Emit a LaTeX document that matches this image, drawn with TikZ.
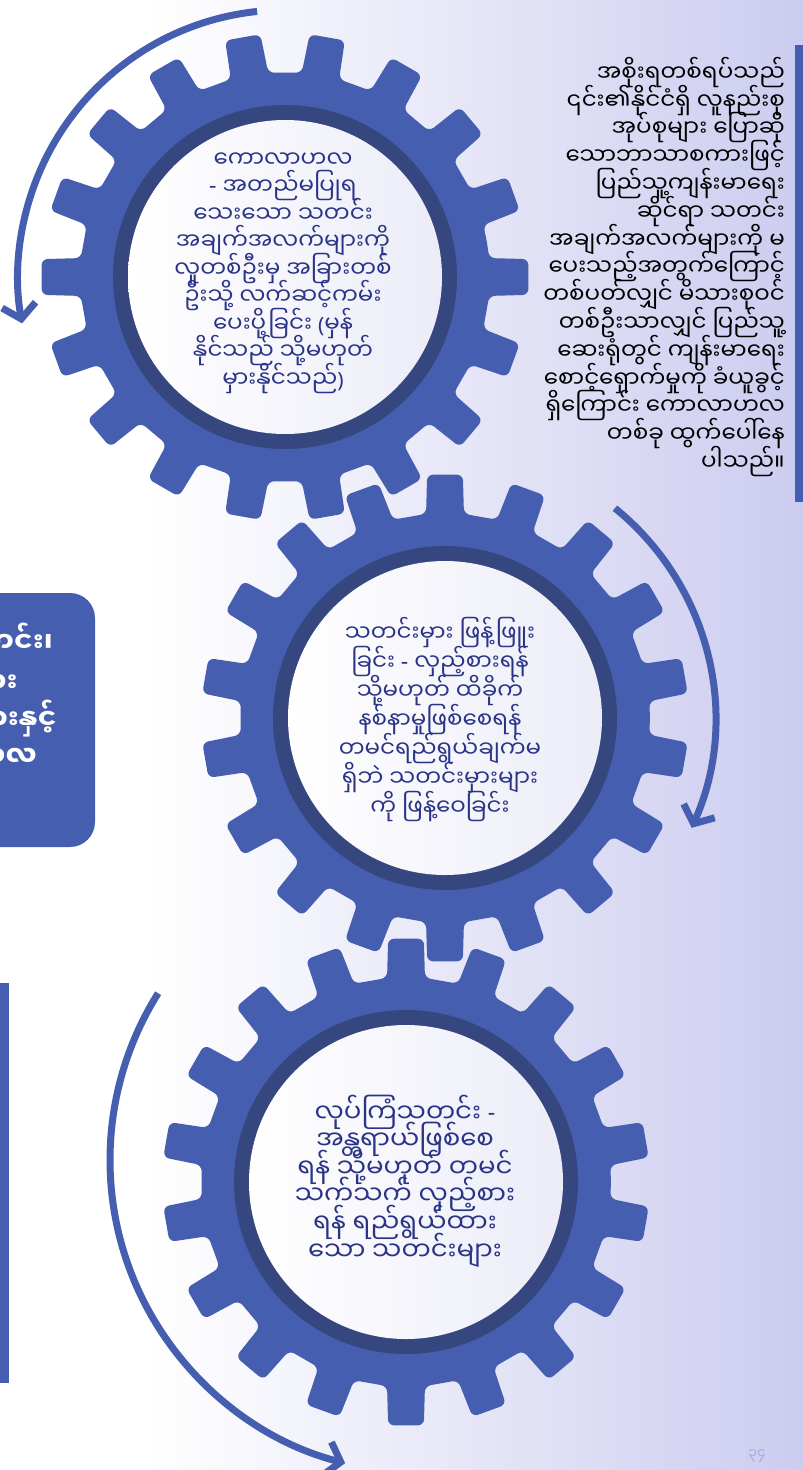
\documentclass[tikz,border=0pt]{standalone}
\usepackage{fontspec}
\newfontfamily\mm[Script=Myanmar]{Noto Sans Myanmar UI}
\newfontfamily\lat{Noto Sans}
\usetikzlibrary{arrows.meta,calc}
\definecolor{gearblue}{RGB}{69,94,176}
\definecolor{ringblue}{RGB}{54,71,128}
\definecolor{textnavy}{RGB}{42,52,135}
\definecolor{bgright}{RGB}{204,204,240}
\definecolor{innerright}{RGB}{236,236,248}
\definecolor{pagenum}{RGB}{165,170,225}
\newcommand\tight{\lineskiplimit=-100pt\lineskip=0pt}
\tikzset{
  geartext/.style={font=\mm\fontsize{23}{27.5}\selectfont\tight, text=textnavy, align=center, inner sep=0pt},
  midtext/.style={font=\mm\fontsize{23}{29}\selectfont\tight, text=textnavy, align=center, inner sep=0pt},
  bigtext/.style={font=\mm\fontsize{26}{27.6}\selectfont\tight, text=textnavy, align=center, inner sep=0pt},
  sidetext/.style={font=\mm\fontsize{23}{27.8}\selectfont\tight, text=black, align=right, inner sep=0pt},
  boxtext/.style={font=\mm\bfseries\fontsize{28}{38}\selectfont, text=white, inner sep=0pt, anchor=base east},
  turn/.style={draw=gearblue, line width=7pt, -{Straight Barb[length=14pt,width=34pt]}},
}
\newcommand\hy{\raisebox{1.5pt}{\lat\fontsize{23}{23}\selectfont -}}
\newcommand\lp{{\lat\fontsize{21}{21}\selectfont (}}
\newcommand\rp{{\lat\fontsize{21}{21}\selectfont )}}
\newcommand\drawgear[2]{%
  \begin{scope}[shift={(#1)}]
    \fill[gearblue, rounded corners=6pt] ({#2-10}:205)
      \foreach \k in {0,...,17}{
        -- ({#2+20*\k-5.3}:205) -- ({#2+20*\k-4.2}:244)
        -- ({#2+20*\k+4.2}:244) -- ({#2+20*\k+5.3}:205)
      } -- cycle;
    \fill[ringblue] (0,0) circle[radius=172];
    \shade[left color=white, right color=innerright] (0,0) circle[radius=157];
  \end{scope}}
\begin{document}
\begin{tikzpicture}[x=1pt,y=-1pt]
\useasboundingbox (0,0) rectangle (803,1470);
\fill[white] (0,0) rectangle (803,1470);
\shade[left color=white, right color=bgright] (150,0) rectangle (803,1470);
% side bars
\fill[gearblue] (795,45) rectangle (803,502);
\fill[gearblue] (0,983) rectangle (9,1383);
% left box
\fill[gearblue, rounded corners=25pt] (-40,593) rectangle (95,847);
\node[boxtext] (lb1) at (53,652) {အမှားသတင်း၊};
\node[boxtext] (lb2) at (18,692) {အလွဲသတင်းများ};
\node[boxtext] (lb3) at (57,729) {သတင်းမှားနှင့်};
\node[boxtext] (lb4) at (37,766) {ကောလာဟလ};
% gears
\coordinate (g1) at (285,277);
\coordinate (g2) at (445,718);
\coordinate (g3) at (406,1182);
\drawgear{g1}{0}
\drawgear{g2}{10}
\drawgear{g3}{10}
% turning arrows
\coordinate (a1s) at ($(g1)+(-96:267)$);
\draw[turn] (a1s) arc[start angle=-96, end angle=-190, radius=267];
\coordinate (a2s) at ($(g2)+(-51:270)$);
\draw[turn] (a2s) arc[start angle=-51, end angle=24, radius=270];
\coordinate (c3) at (423,1160);
\coordinate (a3s) at ($(c3)+(-147.8:313)$);
\draw[turn] (a3s) arc[start angle=-147.8, end angle=-255.6, radius=313];
% gear texts
\node[geartext] (t1) at (283,273) {ကောလာဟလ\\\hy{} အတည်မပြုရ\\သေးသော သတင်း\\အချက်အလက်များကို\\လူတစ်ဦးမှ အခြားတစ်\\ဦးသို့ လက်ဆင့်ကမ်း\\ပေးပို့ခြင်း \lp{}မှန်\\နိုင်သည် သို့မဟုတ်\\မှားနိုင်သည်\rp};
\node[midtext] (t2) at (440,720) {သတင်းမှား ဖြန့်ဖြူး\\ခြင်း \hy{} လှည့်စားရန်\\သို့မဟုတ် ထိခိုက်\\နစ်နာမှုဖြစ်စေရန်\\တမင်ရည်ရွယ်ချက်မ\\ရှိဘဲ သတင်းမှားများ\\ကို ဖြန့်ဝေခြင်း};
\node[bigtext] (t3) at (405,1181) {လုပ်ကြံသတင်း \hy\\အန္တရာယ်ဖြစ်စေ\\ရန် သို့မဟုတ် တမင်\\သက်သက် လှည့်စား\\ရန် ရည်ရွယ်ထား\\သော သတင်းများ};
% right text
\node[sidetext, anchor=east] (rt) at (785,267) {အစိုးရတစ်ရပ်သည်\\၎င်း၏နိုင်ငံရှိ လူနည်းစု\\အုပ်စုများ ပြောဆို\\သောဘာသာစကားဖြင့်\\ပြည်သူ့ကျန်းမာရေး\\ဆိုင်ရာ သတင်း\\အချက်အလက်များကို မ\\ပေးသည့်အတွက်ကြောင့်\\တစ်ပတ်လျှင် မိသားစုဝင်\\တစ်ဦးသာလျှင် ပြည်သူ့\\ဆေးရုံတွင် ကျန်းမာရေး\\စောင့်ရှောက်မှုကို ခံယူခွင့်\\ရှိကြောင်း ကောလာဟလ\\တစ်ခု ထွက်ပေါ်နေ\\ပါသည်။};
% page number
\node[text=pagenum, font=\mm\fontsize{14}{14}\selectfont, inner sep=0pt] (pn) at (757,1456) {၃၄};
\end{tikzpicture}
\end{document}
